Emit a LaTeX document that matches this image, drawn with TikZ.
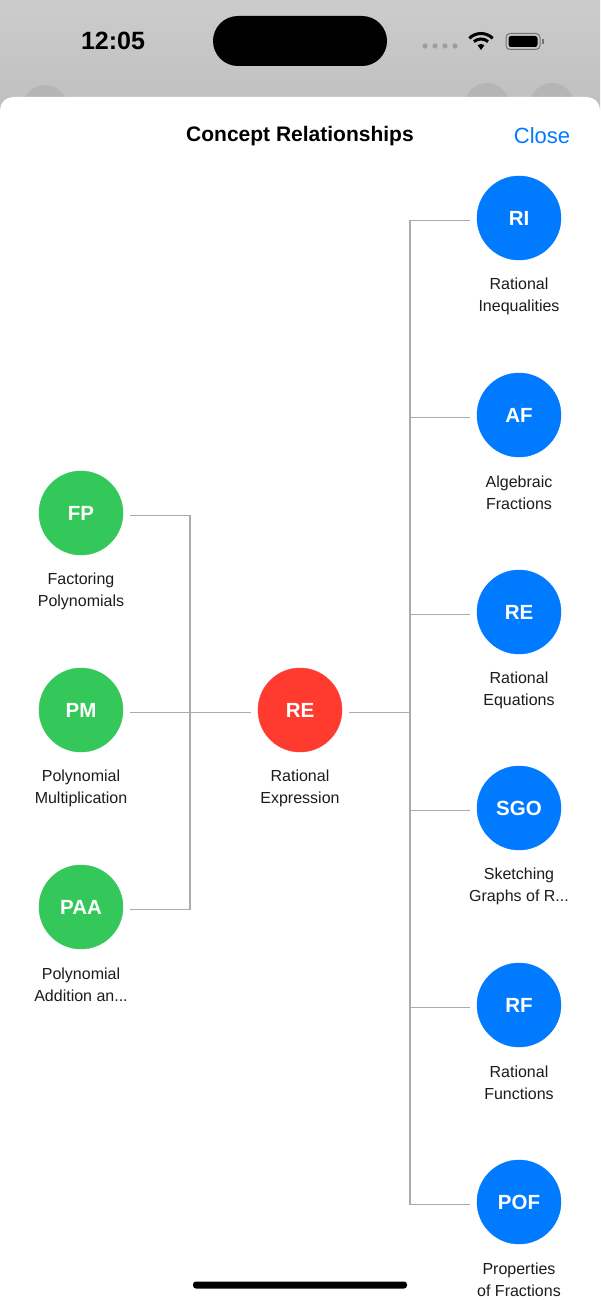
\documentclass[tikz,border=0pt]{standalone}
\usepackage{fontspec}
\setmainfont{Liberation Sans}
\usetikzlibrary{positioning}
\definecolor{islegreen}{HTML}{34C759}
\definecolor{islered}{HTML}{FF3B30}
\definecolor{isleblue}{HTML}{007AFF}
\definecolor{linkgrey}{HTML}{ABABAB}
\definecolor{labelink}{HTML}{1C1C1E}
\tikzset{
  concept/.style={circle, fill=#1, draw=#1, minimum size=84pt, inner sep=0pt, outer sep=7pt,
                  text=white, font=\fontsize{20.5}{24}\selectfont\bfseries},
  caption/.style={align=center, text=labelink, inner sep=0pt, font=\fontsize{16}{22}\selectfont},
  link/.style={linkgrey, line width=1.2pt, transform canvas={yshift=-2.5pt}},
}

\begin{document}
\begin{tikzpicture}[x=1pt,y=-1pt]
   \useasboundingbox (0,0) rectangle (600,1300);
   \clip (0,0) rectangle (600,1300);
   % status bar and sheet
   \shade[top color=black!20, bottom color=black!25] (0,0) rectangle (600,110);
   \fill[black!29] (45,107) circle (22) (487,105) circle (22) (552,105) circle (22);
   \fill[black, rounded corners=25pt] (213,16) rectangle (387,66);
   \node (clock) at (113,41) {\fontsize{25}{28}\selectfont\bfseries 12:05};
   \foreach \x in {425,435,445,455} \fill[black!38] (\x,46) circle (2.6);
   \fill[black] (481,50) -- ++(235:6) arc (235:305:6) -- cycle;
   \draw[black, line width=3pt] (481,50) ++(230:11) arc (230:310:11);
   \draw[black, line width=3pt] (481,50) ++(225:16.5) arc (225:315:16.5);
   \draw[black!55, line width=1pt, rounded corners=4pt] (506,33.5) rectangle (540,49.5);
   \fill[black, rounded corners=2.5pt] (508.5,36) rectangle (537.5,47);
   \fill[black!55] (541.5,39) rectangle (543.5,44);
   \fill[white, rounded corners=13pt] (0,1330) -- (0,97) -- (600,97) -- (600,1330) -- cycle;
   \node (title) at (300,136) {\fontsize{21}{25}\selectfont\bfseries Concept Relationships};
   \node[text=isleblue] (close) at (542,136) {\fontsize{22}{26}\selectfont Close};
   % concepts
   \node[concept=islegreen] (fp)  at ( 81, 513) {FP};
   \node[concept=islegreen] (pm)  at ( 81, 710) {PM};
   \node[concept=islegreen] (paa) at ( 81, 907) {PAA};
   \node[concept=islered]   (re)  at (300, 710) {RE};
   \node[concept=isleblue]  (ri)  at (519, 218) {RI};
   \node[concept=isleblue]  (af)  at (519, 415) {AF};
   \node[concept=isleblue]  (req) at (519, 612) {RE};
   \node[concept=isleblue]  (sgo) at (519, 808) {SGO};
   \node[concept=isleblue]  (rf)  at (519,1005) {RF};
   \node[concept=isleblue]  (pof) at (519,1202) {POF};
   \node[caption] (fp-l)  at ( 81, 591) {Factoring\\Polynomials};
   \node[caption] (pm-l)  at ( 81, 788) {Polynomial\\Multiplication};
   \node[caption] (paa-l) at ( 81, 985) {Polynomial\\Addition an...};
   \node[caption] (re-l)  at (300, 788) {Rational\\Expression};
   \node[caption] (ri-l)  at (519, 296) {Rational\\Inequalities};
   \node[caption] (af-l)  at (519, 493) {Algebraic\\Fractions};
   \node[caption] (req-l) at (519, 690) {Rational\\Equations};
   \node[caption] (sgo-l) at (519, 886) {Sketching\\Graphs of R...};
   \node[caption] (rf-l)  at (519,1083) {Rational\\Functions};
   \node[caption] (pof-l) at (519,1280) {Properties\\of Fractions};
   % connectors
   \coordinate (lj) at (190,710);
   \coordinate (rj) at (410,710);
   \draw[link] (fp) -| (lj) |- (paa);
   \draw[link] (pm) -- (re);
   \draw[link] (re) -- (rj);
   \foreach \n in {ri,af,req,sgo,rf,pof} \draw[link] (rj) |- (\n);
   \fill[black, rounded corners=3pt] (193,1281.5) rectangle (407,1288.5);
\end{tikzpicture}
\end{document}
